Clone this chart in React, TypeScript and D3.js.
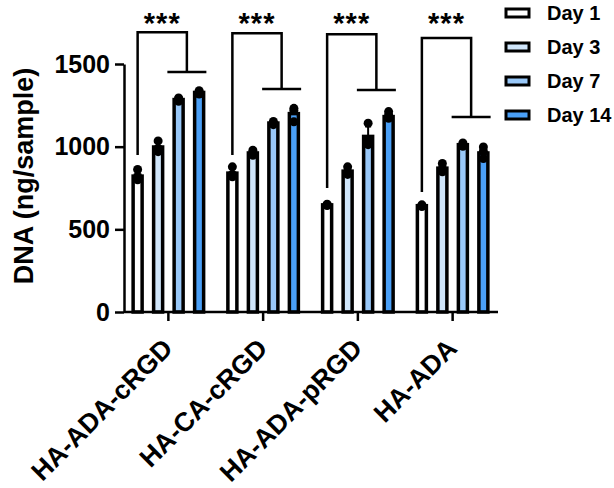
import React from "react";
import * as d3 from "d3";

const groups = ["HA-ADA-cRGD", "HA-CA-cRGD", "HA-ADA-pRGD", "HA-ADA"];
const days = ["Day 1", "Day 3", "Day 7", "Day 14"];
const dayColors = ["#ffffff", "#d0e6fb", "#99c8f8", "#4a9ff6"];

// mean per group (rows) and day (columns)
const means = [
  [822, 998, 1285, 1328],
  [840, 962, 1143, 1200],
  [648, 852, 1062, 1182],
  [643, 870, 1012, 962],
];
const errors = [
  [30, 30, 10, 10],
  [30, 15, 10, 45],
  [5, 25, 60, 20],
  [5, 25, 10, 35],
];
// replicate points
const points = [
  [[862, 820, 800], [1035, 990, 970], [1295, 1285, 1275], [1338, 1328, 1318]],
  [[878, 832, 818], [978, 962, 948], [1152, 1143, 1133], [1232, 1218, 1150]],
  [[652, 648, 644], [878, 848, 832], [1142, 1042, 1012], [1212, 1192, 1172]],
  [[648, 643, 638], [898, 868, 848], [1022, 1012, 1002], [998, 972, 928]],
];
const yTicks = [0, 500, 1000, 1500];

// significance brackets (values in ng/sample)
const bracketLeftLow = [950, 950, 750, 726];
const bracketTop = [1692, 1686, 1680, 1657];
const bracketRightLow = [1452, 1349, 1343, 1180];
const stars = ["***", "***", "***", "***"];

const FONT = '"Liberation Sans", Arial, sans-serif';

const App = () => {
  const ref = React.useRef<SVGSVGElement>(null);

  React.useEffect(() => {
    const svg = d3.select(ref.current);
    svg.selectAll("*").remove();

    const y = d3.scaleLinear().domain([0, 1500]).range([312, 64]);
    const x = d3.scaleBand().domain(groups).range([121, 500]);
    const inner = d3.scaleBand().domain(days).range([-41, 41]);
    const barW = 9;
    const axisX = 124;

    const cx = (g: number, d: number) =>
      (x(groups[g]) as number) + x.bandwidth() / 2 + (inner(days[d]) as number) + inner.bandwidth() / 2;

    // bars
    const bars = svg.append("g");
    groups.forEach((g, gi) => {
      days.forEach((d, di) => {
        const m = means[gi][di];
        const c = cx(gi, di);
        bars.append("rect")
          .attr("x", c - barW / 2)
          .attr("y", y(m))
          .attr("width", barW)
          .attr("height", y(0) - y(m))
          .attr("fill", dayColors[di])
          .attr("stroke", "black")
          .attr("stroke-width", 3.5);
        // error bar
        const e = errors[gi][di];
        bars.append("line")
          .attr("x1", c).attr("x2", c)
          .attr("y1", y(m)).attr("y2", y(m + e))
          .attr("stroke", "black").attr("stroke-width", 2);
        bars.append("line")
          .attr("x1", c - 3).attr("x2", c + 3)
          .attr("y1", y(m + e)).attr("y2", y(m + e))
          .attr("stroke", "black").attr("stroke-width", 2);
        points[gi][di].forEach((p) => {
          bars.append("circle")
            .attr("cx", c)
            .attr("cy", y(p))
            .attr("r", 4.5)
            .attr("fill", "black");
        });
      });
    });

    // y axis
    const yAxis = svg.append("g")
      .attr("transform", `translate(${axisX},0)`)
      .call(d3.axisLeft(y).tickValues(yTicks).tickSize(9).tickSizeOuter(0).tickPadding(5).tickFormat(d3.format("d")));
    yAxis.select(".domain").attr("stroke-width", 2.5);
    yAxis.selectAll(".tick line").attr("stroke-width", 2.5);
    yAxis.selectAll(".tick text")
      .attr("font-family", FONT)
      .attr("font-weight", "bold")
      .attr("font-size", 25)
      .attr("fill", "black");

    // x axis
    const xAxis = svg.append("g")
      .attr("transform", `translate(0,${y(0)})`)
      .call(d3.axisBottom(x).tickSize(9).tickSizeOuter(0).tickFormat(() => ""));
    xAxis.select(".domain").remove();
    xAxis.append("line")
      .attr("x1", axisX).attr("x2", 498)
      .attr("y1", 0).attr("y2", 0)
      .attr("stroke", "black").attr("stroke-width", 2.5);
    xAxis.selectAll(".tick line").attr("stroke-width", 2.5);

    // category labels
    groups.forEach((g) => {
      const c = (x(g) as number) + x.bandwidth() / 2;
      svg.append("text")
        .attr("transform", `translate(${c + 6},350) rotate(-45)`)
        .attr("text-anchor", "end")
        .attr("font-family", FONT)
        .attr("font-weight", "bold")
        .attr("font-size", 26.5)
        .text(g);
    });

    // y title
    svg.append("text")
      .attr("transform", "translate(33,176) rotate(-90)")
      .attr("text-anchor", "middle")
      .attr("font-family", FONT)
      .attr("font-weight", "bold")
      .attr("font-size", 27)
      .text("DNA (ng/sample)");

    // brackets
    const br = svg.append("g")
      .attr("fill", "none")
      .attr("stroke", "black")
      .attr("stroke-width", 2.5);
    groups.forEach((g, gi) => {
      const xl = cx(gi, 0);
      const xr = (cx(gi, 2) + cx(gi, 3)) / 2 - 2;
      br.append("path")
        .attr("d", `M${xl},${y(bracketLeftLow[gi])}V${y(bracketTop[gi])}H${xr}V${y(bracketRightLow[gi])}`);
      br.append("line")
        .attr("x1", xr - 19.5).attr("x2", xr + 19.5)
        .attr("y1", y(bracketRightLow[gi])).attr("y2", y(bracketRightLow[gi]));
      svg.append("text")
        .attr("x", (xl + xr) / 2)
        .attr("y", 33)
        .attr("text-anchor", "middle")
        .attr("font-family", FONT)
        .attr("font-weight", "bold")
        .attr("font-size", 29)
        .attr("letter-spacing", 1)
        .text(stars[gi]);
    });

    // legend
    const lg = svg.append("g");
    days.forEach((d, di) => {
      const ly = 13 + di * 34;
      lg.append("rect")
        .attr("x", 506).attr("y", ly - 4)
        .attr("width", 23).attr("height", 8)
        .attr("fill", dayColors[di])
        .attr("stroke", "black")
        .attr("stroke-width", 3);
      lg.append("text")
        .attr("x", 547).attr("y", ly)
        .attr("dy", "0.35em")
        .attr("font-family", FONT)
        .attr("font-weight", "bold")
        .attr("font-size", 20)
        .text(d);
    });
  }, []);

  return (
    <svg
      ref={ref}
      width={614}
      height={488}
      style={{ position: "absolute", left: 0, top: 0, background: "white" }}
    />
  );
};

export default App;
